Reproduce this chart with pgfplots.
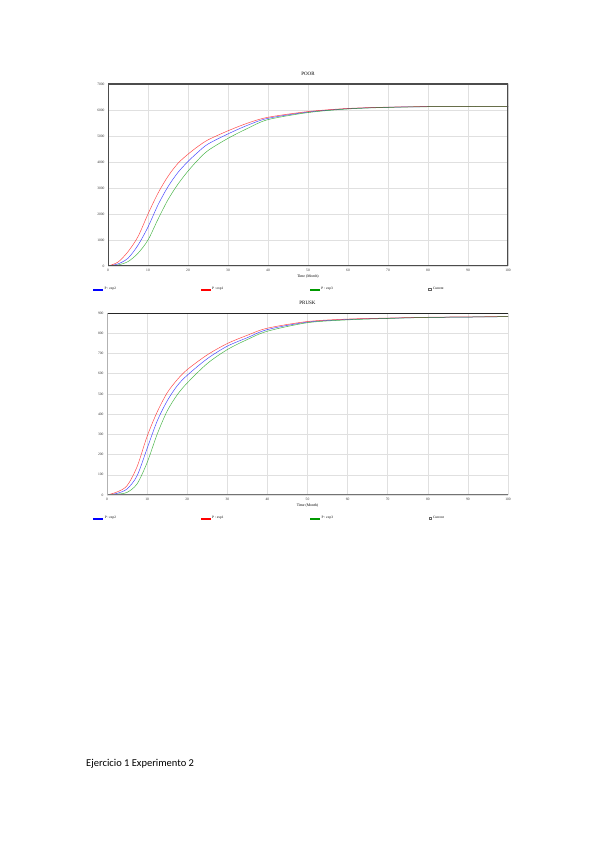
\documentclass[border=0pt]{standalone}
\usepackage{pgfplots}
\pgfplotsset{compat=1.18}
\usepackage{fontspec}
\setmainfont{Liberation Serif}
\newfontfamily\calibri{Carlito}

\pgfplotstableread{
x    red   blue  green
0    0     0     0
2.5  150   80    40
5    550   300   170
7.5  1130  800   490
10   2000  1500  1000
12.5 2800  2350  1800
15   3450  3050  2550
17.5 3950  3600  3150
20   4300  4020  3650
22.5 4600  4380  4080
25   4850  4690  4440
30   5200  5080  4910
35   5500  5420  5300
40   5720  5680  5630
50   5940  5920  5900
60   6060  6050  6040
70   6110  6105  6100
80   6130  6128  6125
90   6135  6134  6133
100  6140  6140  6140
}\poor

\pgfplotstableread{
x    red   blue  green
0    0     0     0
2.5  15    8     4
5    46    30    13
7.5  140   95    55
10   290   230   160
12.5 410   365   300
15   505   465   415
17.5 570   540   495
20   620   592   554
25   693   674   650
30   749   736   719
35   790   778   769
40   825   818   810
50   858   855   852
60   870   868   866
70   875   874   873
80   879   878   878
90   881   880   880
100  882   882   882
}\prusk

\pgfplotsset{
  vensim/.style={
    scale only axis,
    anchor=south west,
    xmin=0, xmax=100,
    xtick={0,10,...,100},
    grid=major,
    major grid style={black!12, line width=0.5pt},
    major tick length=0pt,
    axis line style={draw=none},
    tick label style={font=\fontsize{3.6}{4}\selectfont, /pgf/number format/assume math mode=true, text=black!80},
    yticklabel style={/pgf/number format/1000 sep={}},
    scaled y ticks=false,
    title style={font=\fontsize{5}{6}\selectfont, yshift=-1pt},
    xlabel={Time (Month)},
    xlabel style={font=\fontsize{3.8}{4}\selectfont, yshift=4pt},
    legend columns=4,
    legend style={draw=none, fill=none, font=\fontsize{3.5}{4}\selectfont, anchor=north west,
      /tikz/every even column/.append style={column sep=0pt}},
    legend cell align=left,
  },
  curve/.style={line width=0.5pt, smooth, opacity=0.7},
  legblue/.style={legend image code/.code={\fill[blue] (0pt,-0.4pt) rectangle (9pt,0.4pt);}},
  legred/.style={legend image code/.code={\fill[red] (0pt,-0.4pt) rectangle (9pt,0.4pt);}},
  leggreen/.style={legend image code/.code={\fill[green!60!black] (0pt,-0.4pt) rectangle (9pt,0.4pt);}},
  boxlegend/.style={legend image code/.code={\node[draw=black!60, line width=0.4pt, inner sep=0pt, minimum size=2.2pt] at (6pt,0pt) {};}},
}

\begin{document}
\begin{tikzpicture}[x=1pt,y=1pt]
\path[fill=white] (0pt,0pt) rectangle (599pt,848pt);

\begin{axis}[vensim,
  at={(108pt,582pt)}, width=400pt, height=182pt,
  ymin=0, ymax=7000, ytick={0,1000,...,7000},
  title={POOR},
  legend style={at={(-0.045,-0.095)}},
]
\addplot[curve, blue, forget plot] table[x=x, y=blue] {\poor};
\addplot[curve, red, forget plot] table[x=x, y=red] {\poor};
\addplot[curve, green!60!black, forget plot] table[x=x, y=green] {\poor};
\addlegendimage{legblue}
\addlegendimage{legred}
\addlegendimage{leggreen}
\addlegendimage{boxlegend}
\legend{\makebox[94pt][l]{P : exp2},\makebox[96pt][l]{P : exp1},\makebox[105pt][l]{P : exp3},\makebox[40pt][l]{Current}}
\draw[black!70, line width=1.1pt] (rel axis cs:0,0) rectangle (rel axis cs:1,1);
\draw[black!10, line width=0.5pt] (rel axis cs:-0.045,-0.13) -- (rel axis cs:1.02,-0.13);
\end{axis}

\begin{axis}[vensim,
  at={(107pt,353pt)}, width=401pt, height=182pt,
  ymin=0, ymax=900, ytick={0,100,...,900},
  title={PRUSK},
  legend style={at={(-0.042,-0.095)}},
]
\addplot[curve, blue, forget plot] table[x=x, y=blue] {\prusk};
\addplot[curve, red, forget plot] table[x=x, y=red] {\prusk};
\addplot[curve, green!60!black, forget plot] table[x=x, y=green] {\prusk};
\addlegendimage{legblue}
\addlegendimage{legred}
\addlegendimage{leggreen}
\addlegendimage{boxlegend}
\legend{\makebox[94pt][l]{P : exp2},\makebox[96pt][l]{P : exp1},\makebox[105pt][l]{P : exp3},\makebox[40pt][l]{Current}}
\draw[black!85, line width=1.1pt] (rel axis cs:0,1) -- (rel axis cs:1,1);
\draw[black!55, line width=1.3pt] (rel axis cs:0,0) -- (rel axis cs:1,0);
\draw[black!30, line width=0.5pt] (rel axis cs:0,0) -- (rel axis cs:0,1);
\draw[black!10, line width=0.5pt] (rel axis cs:-0.045,-0.13) -- (rel axis cs:1.02,-0.13);
\end{axis}

\node[anchor=west, inner sep=0pt, font=\calibri\fontsize{10.5}{12}\selectfont] at (86pt,84pt) {Ejercicio 1 Experimento 2};
\end{tikzpicture}
\end{document}
